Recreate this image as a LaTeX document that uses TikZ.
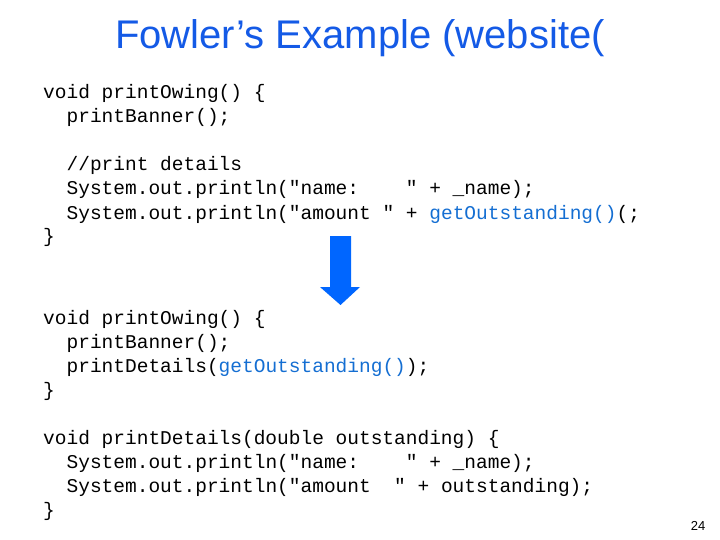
\documentclass[tikz,border=0pt]{standalone}
\usepackage{fontspec}
\setmainfont{Liberation Sans}
\setmonofont{Liberation Mono}
\usepackage{xcolor}
\definecolor{titleblue}{RGB}{20,90,230}
\definecolor{codeblue}{RGB}{20,110,210}
\definecolor{arrowblue}{RGB}{0,102,255}
\tikzset{
  codeline/.style={anchor=base west,inner sep=0pt,font=\fontsize{19.5}{20}\selectfont\ttfamily},
  hl/.style={text=codeblue}
}
\newcommand{\hlt}[1]{\textcolor{codeblue}{#1}}
\begin{document}
\begin{tikzpicture}[x=1pt,y=-1pt]
  \useasboundingbox (0,0) rectangle (720,540);
  \node[font=\fontsize{40}{44}\selectfont,text=titleblue] (title) at (360,38) {Fowler’s Example (website(};
  % first version
  \node[codeline] (l1) at (43,99) {void printOwing() \{};
  \node[codeline] (l2) at (43,123) {\ \ printBanner();};
  \node[codeline] (l3) at (43,171) {\ \ //print details};
  \node[codeline] (l4) at (43,195) {\ \ System.out.println("name:\ \ \ \ " + \_name);};
  \node[codeline] (l5) at (43,219) {\ \ System.out.println("amount " + \hlt{getOutstanding()}(;};
  \node[codeline] (l6) at (43,243) {\}};
  % arrow
  \fill[arrowblue] (330,236) -- (351,236) -- (351,287) -- (360,287) -- (340.5,305) -- (320,287) -- (330,287) -- cycle;
  % refactored
  \node[codeline] (m1) at (43,324) {void printOwing() \{};
  \node[codeline] (m2) at (43,348) {\ \ printBanner();};
  \node[codeline] (m3) at (43,372) {\ \ printDetails(\hlt{getOutstanding()});};
  \node[codeline] (m4) at (43,396) {\}};
  \node[codeline] (n1) at (43,444) {void printDetails(double outstanding) \{};
  \node[codeline] (n2) at (43,468) {\ \ System.out.println("name:\ \ \ \ " + \_name);};
  \node[codeline] (n3) at (43,492) {\ \ System.out.println("amount\ \ " + outstanding);};
  \node[codeline] (n4) at (43,516) {\}};
  \node[font=\fontsize{13}{14}\selectfont] (page) at (698,526) {24};
\end{tikzpicture}
\end{document}
